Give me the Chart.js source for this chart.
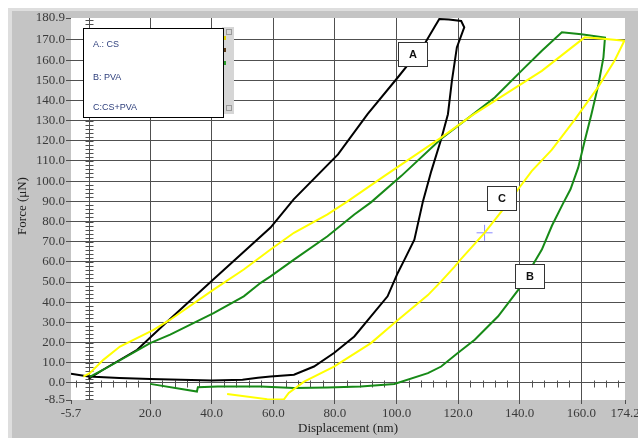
<!DOCTYPE html>
<html>
<head>
<meta charset="utf-8">
<script src="https://cdn.jsdelivr.net/npm/chart.js@4.4.1/dist/chart.umd.min.js"></script>
<style>
    html, body { margin: 0; padding: 0; background: #fff; }
    #wrap { width: 638px; height: 438px; }
</style>
</head>
<body>
<div id="wrap"><canvas id="grafico" width="638" height="438"></canvas></div>
<script>
// Ticks of the axes
const dispTicks = [-5.7, 20, 40, 60, 80, 100, 120, 140, 160, 174.2];
const forceTicks = [-8.5, 0, 10, 20, 30, 40, 50, 60, 70, 80, 90, 100, 110, 120, 130, 140, 150, 160, 170, 180.9];

// Curve A (CS), black: loading, hold, unloading, return
const curveAx = [0.0, 4.7, 15.8, 25.5, 40.5, 59.1, 66.6, 81.0, 90.6, 100.4, 109.1, 112.3, 113.9, 117.0, 121.0, 122.0, 119.6, 118.0, 116.7, 114.5, 111.3, 108.6, 105.8, 102.6, 100.4, 97.1, 91.7, 86.3, 79.7, 73.2, 66.7, 59.1, 55.0, 50.0, 40.0, 30.0, 20.0, 10.0, 0.0, -5.7];
const curveAy = [2.0, 6.5, 16.4, 30.3, 51.2, 77.0, 91.0, 113.3, 133.2, 151.4, 168.0, 176.3, 180.4, 180.2, 179.4, 176.3, 166.3, 149.8, 133.2, 120.8, 105.0, 90.1, 71.0, 61.1, 54.5, 42.9, 33.0, 23.0, 14.8, 8.1, 4.0, 3.1, 2.5, 1.5, 1.2, 1.6, 1.9, 2.4, 3.2, 4.5];

// Curve B (PVA), green
const curveBx = [0.4, 4.8, 20.0, 26.5, 40.6, 50.4, 55.9, 59.1, 66.7, 77.6, 86.3, 91.7, 101.5, 114.5, 124.3, 131.9, 141.7, 147.2, 153.7, 160.0, 167.7, 167.2, 165.6, 163.3, 161.1, 159.0, 156.5, 154.1, 150.5, 147.2, 144.0, 139.6, 133.0, 125.4, 119.9, 114.5, 110.2, 99.3, 88.4, 77.6, 66.7, 55.9, 42.0, 35.5, 35.2, 20.0];
const curveBy = [3.0, 6.5, 19.7, 23.9, 34.6, 42.9, 49.6, 52.8, 61.1, 72.7, 83.5, 89.5, 102.5, 121.0, 132.5, 141.5, 156.4, 164.7, 173.8, 172.8, 171.2, 161.4, 148.1, 133.2, 119.9, 106.7, 96.0, 89.0, 78.0, 66.1, 57.8, 46.2, 33.0, 21.4, 14.8, 8.1, 4.8, -0.6, -1.8, -2.3, -2.6, -1.8, -1.8, -2.2, -4.3, -0.5];

// Curve C (CS+PVA), yellow
const curveCx = [-1.7, 0.4, 4.8, 10.2, 21.1, 26.5, 40.6, 50.4, 59.1, 66.7, 77.6, 84.1, 96.0, 114.5, 124.3, 131.9, 147.2, 161.1, 168.0, 174.0, 170.8, 165.4, 157.9, 150.4, 143.9, 139.5, 134.1, 128.6, 121.0, 118.8, 114.5, 110.2, 99.3, 91.7, 79.7, 70.0, 65.0, 63.4, 58.0, 45.0];
const curveCy = [3.1, 4.8, 11.4, 18.0, 26.3, 31.3, 46.2, 56.2, 66.1, 74.4, 83.5, 90.0, 102.5, 121.6, 132.4, 139.8, 154.7, 171.3, 170.5, 169.6, 159.7, 146.5, 130.5, 115.5, 105.0, 96.0, 85.0, 74.4, 61.5, 57.5, 50.3, 43.5, 29.7, 19.7, 8.1, 0.6, -5.0, -8.3, -8.1, -5.5];

// Cursor on curve C
const cursorX = [128.6];
const cursorY = [74.4];

// Letter labels on the curves (data coordinates)
const labelText = ['A', 'B', 'C'];
const labelX = [105.2, 143.4, 134.2];
const labelY = [163.0, 52.9, 91.9];

// Legend texts
const legendText = ['A.: CS', 'B: PVA', 'C:CS+PVA'];

const serif = "'Liberation Serif', 'Times New Roman', serif";

function serie(xs, ys) {
    return xs.map((v, i) => ({ x: v, y: ys[i] }));
}

function gridColor(ctx, edges) {
    const v = ctx.tick ? ctx.tick.value : null;
    return edges.includes(v) ? 'rgba(0,0,0,0)' : '#505050';
}

// Gray frame and white plot area
const marco = {
    id: 'marco',
    beforeDraw(chart) {
        const ctx = chart.ctx, a = chart.chartArea;
        ctx.save();
        ctx.fillStyle = '#ffffff';
        ctx.fillRect(0, 0, 638, 438);
        ctx.fillStyle = '#dedede';
        ctx.fillRect(8, 8, 630, 430);
        ctx.fillStyle = '#c4c4c4';
        ctx.fillRect(12, 11, 626, 427);
        ctx.fillStyle = '#ffffff';
        ctx.fillRect(a.left, a.top, a.right - a.left, a.bottom - a.top);
        ctx.restore();
    }
};

// Axis lines through zero with minor ticks, and axis titles
const ejes = {
    id: 'ejes',
    beforeDatasetsDraw(chart) {
        const { ctx, scales: { x, y } } = chart;
        const x0 = Math.round(x.getPixelForValue(0)) + 0.5;
        const y0 = Math.round(y.getPixelForValue(0)) + 0.5;
        ctx.save();
        ctx.strokeStyle = '#505050';
        ctx.lineWidth = 1;
        ctx.beginPath();
        ctx.moveTo(x0, y.top);
        ctx.lineTo(x0, y.bottom);
        for (let v = -8; v <= 180; v += 2) {
            const p = Math.round(y.getPixelForValue(v)) + 0.5;
            ctx.moveTo(x0 - 4, p);
            ctx.lineTo(x0 + 4, p);
        }
        for (let v = -4; v <= 172; v += 4) {
            if (v % 20 === 0) continue;
            const p = Math.round(x.getPixelForValue(v)) + 0.5;
            ctx.moveTo(p, y0 - 3);
            ctx.lineTo(p, y0 + 4);
        }
        ctx.stroke();

        ctx.fillStyle = '#222';
        ctx.font = '13px ' + serif;
        ctx.textAlign = 'center';
        ctx.textBaseline = 'middle';
        ctx.fillText('Displacement (nm)', 348, 429);
        ctx.translate(23, 206);
        ctx.rotate(-Math.PI / 2);
        ctx.fillText('Force (\u03bcN)', 0, 0);
        ctx.restore();
    }
};

// Legend box and letter boxes
const anotaciones = {
    id: 'anotaciones',
    afterDatasetsDraw(chart) {
        const { ctx, scales: { x, y } } = chart;
        ctx.save();
        // scrollbar behind the legend
        ctx.fillStyle = '#d6d6d6';
        ctx.fillRect(222, 27, 12, 87);
        ctx.strokeStyle = '#9a9a9a';
        ctx.lineWidth = 1;
        ctx.strokeRect(226.5, 29.5, 5, 5);
        ctx.strokeRect(226.5, 105.5, 5, 5);
        ctx.fillStyle = '#e0d000';
        ctx.fillRect(224, 36, 2, 4);
        ctx.fillStyle = '#5a3a1a';
        ctx.fillRect(224, 48, 2, 4);
        ctx.fillStyle = '#2a9a2a';
        ctx.fillRect(224, 61, 2, 4);

        ctx.fillStyle = '#ffffff';
        ctx.fillRect(83.5, 28.5, 140, 89);
        ctx.strokeStyle = '#000';
        ctx.strokeRect(83.5, 28.5, 140, 89);
        ctx.fillStyle = '#2e3f7c';
        ctx.font = "9px 'Liberation Sans', Arial, sans-serif";
        ctx.textBaseline = 'middle';
        ctx.textAlign = 'left';
        const rows = [45, 78, 108];
        legendText.forEach((t, i) => ctx.fillText(t, 93, rows[i]));

        labelText.forEach((t, i) => {
            const px = Math.round(x.getPixelForValue(labelX[i]));
            const py = Math.round(y.getPixelForValue(labelY[i]));
            ctx.fillStyle = '#ffffff';
            ctx.fillRect(px - 14.5, py - 11.5, 29, 24);
            ctx.strokeStyle = '#333';
            ctx.strokeRect(px - 14.5, py - 11.5, 29, 24);
            ctx.fillStyle = '#111';
            ctx.font = "bold 11px 'Liberation Sans', Arial, sans-serif";
            ctx.textAlign = 'center';
            ctx.fillText(t, px, py + 1);
        });
        ctx.restore();
    }
};

const lineStyle = { showLine: true, pointRadius: 0, borderWidth: 2, tension: 0, fill: false };

new Chart(document.getElementById('grafico'), {
    type: 'scatter',
    data: {
        datasets: [
            { label: 'C:CS+PVA', data: serie(curveCx, curveCy), borderColor: '#ffff00', ...lineStyle },
            { label: 'B: PVA', data: serie(curveBx, curveBy), borderColor: '#178a17', ...lineStyle },
            { label: 'A: CS', data: serie(curveAx, curveAy), borderColor: '#000000', ...lineStyle },
            {
                label: 'cursor', data: serie(cursorX, cursorY), showLine: false,
                pointStyle: 'cross', pointRadius: 8, borderColor: '#8a8aff', borderWidth: 1
            }
        ]
    },
    options: {
        responsive: false,
        animation: false,
        layout: { padding: { top: 18, right: 13, left: 0, bottom: 0 } },
        plugins: { legend: { display: false }, tooltip: { enabled: false } },
        scales: {
            x: {
                type: 'linear', min: -5.7, max: 174.2,
                afterBuildTicks: s => { s.ticks = dispTicks.map(v => ({ value: v })); },
                afterFit: s => { s.height = 38; s.paddingLeft = 0; s.paddingRight = 0; },
                ticks: {
                    callback: v => Number(v).toFixed(1),
                    color: '#3a3a3a', font: { family: serif, size: 13 },
                    padding: 2, autoSkip: false, maxRotation: 0
                },
                grid: { color: c => gridColor(c, [-5.7, 174.2]), lineWidth: 1, tickLength: 4, tickColor: '#505050' },
                border: { display: false }
            },
            y: {
                type: 'linear', min: -8.5, max: 180.9,
                afterBuildTicks: s => { s.ticks = forceTicks.map(v => ({ value: v })); },
                afterFit: s => { s.width = 71; s.paddingTop = 0; s.paddingBottom = 0; },
                ticks: {
                    callback: v => Number(v).toFixed(1),
                    color: '#3a3a3a', font: { family: serif, size: 13 },
                    padding: 1, autoSkip: false
                },
                grid: { color: c => gridColor(c, [-8.5, 180.9]), lineWidth: 1, tickLength: 5, tickColor: '#505050' },
                border: { display: false }
            }
        }
    },
    plugins: [marco, ejes, anotaciones]
});
</script>
</body>
</html>
